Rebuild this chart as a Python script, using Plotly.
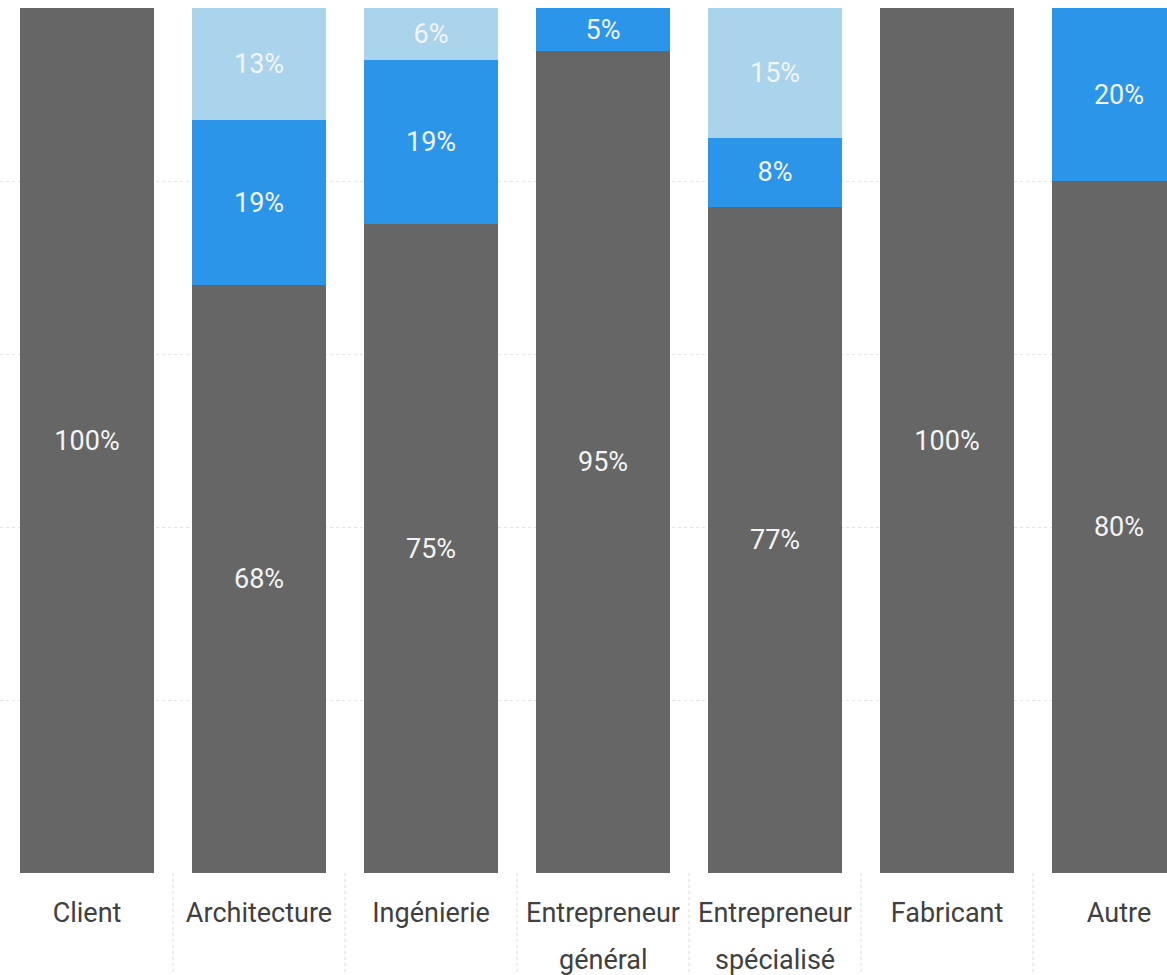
import plotly.graph_objects as go

# Categories (first line of each label, optional second line)
categories = ["Client", "Architecture", "Ingénierie", "Entrepreneur", "Entrepreneur", "Fabricant", "Autre"]
second_lines = ["", "", "", "général", "spécialisé", "", ""]

# Stacked shares (%) per category, bottom to top
share_main = [100, 68, 75, 95, 77, 100, 80]
share_mid = [None, 19, 19, 5, 8, None, 20]
share_top = [None, 13, 6, None, 15, None, None]

series = [
    ("Principal", share_main, "#666666"),
    ("Secondaire", share_mid, "#2B95EA"),
    ("Tertiaire", share_top, "#AAD3EC"),
]

FONT = "Roboto, Segoe UI, sans-serif"
xpos = list(range(len(categories)))

fig = go.Figure()
for name, vals, color in series:
    fig.add_trace(go.Bar(
        x=xpos,
        y=vals,
        name=name,
        marker=dict(color=color, line=dict(width=0)),
        text=[f"{v}%" if v is not None else None for v in vals],
        textposition="inside",
        insidetextanchor="middle",
        textangle=0,
        constraintext="none",
        textfont=dict(family=FONT, size=27, color="#F4F4F4"),
        hoverinfo="skip",
    ))

# Second line of the two-line category labels
for i, line in enumerate(second_lines):
    if line:
        fig.add_annotation(
            x=i, y=-0.101, xref="x", yref="paper",
            text=line, showarrow=False, yanchor="middle",
            font=dict(family=FONT, size=27, color="#404040"),
        )

# Faint dotted separators between categories under the bars
for i in range(len(categories) - 1):
    fig.add_shape(
        type="line", xref="x", yref="paper",
        x0=i + 0.5, x1=i + 0.5, y0=0, y1=-0.12,
        line=dict(color="#DADADA", width=1, dash="dot"),
        layer="below",
    )

fig.update_layout(
    width=1167,
    height=975,
    barmode="stack",
    bargap=0.22,
    showlegend=False,
    plot_bgcolor="white",
    paper_bgcolor="white",
    margin=dict(l=0, r=0, t=8, b=102),
    font=dict(family=FONT, color="#404040"),
)
fig.update_xaxes(
    range=[-0.506, 6.279],
    tickmode="array",
    tickvals=xpos,
    ticktext=categories,
    tickfont=dict(family=FONT, size=27, color="#404040"),
    ticklabelstandoff=21,
    showgrid=False,
    showline=False,
    zeroline=False,
    ticks="",
)
fig.update_yaxes(
    range=[0, 100],
    tickvals=[20, 40, 60, 80],
    showticklabels=False,
    showgrid=True,
    gridcolor="#E4E4E4",
    griddash="dot",
    gridwidth=1,
    zeroline=False,
    showline=False,
    ticks="",
)

fig.write_html("out.html")
